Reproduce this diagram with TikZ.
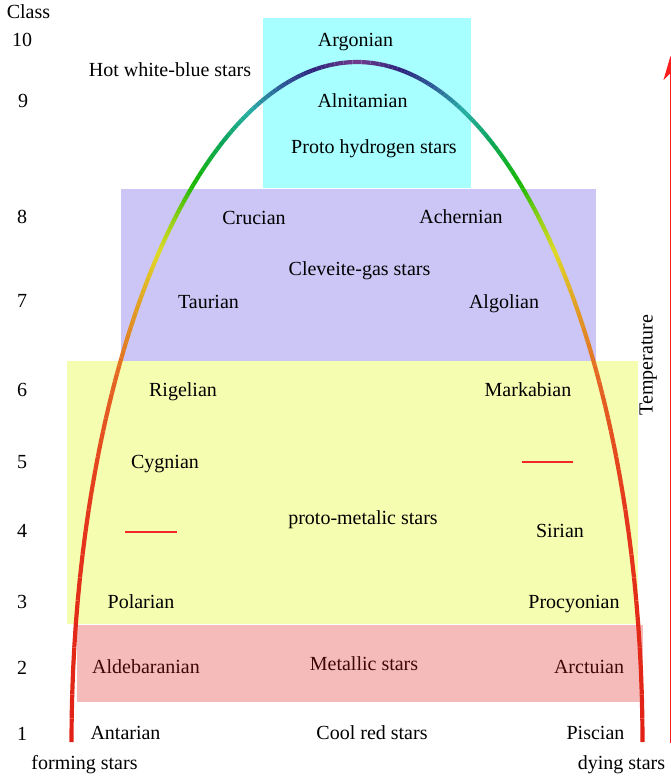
\documentclass[tikz,border=0pt]{standalone}
\usepackage{fontspec}
\setmainfont{Liberation Serif}
\usetikzlibrary{arrows.meta}
\definecolor{cyanbox}{RGB}{168,255,255}
\definecolor{lavbox}{RGB}{204,198,246}
\definecolor{yelbox}{RGB}{245,253,176}
\definecolor{pinkbox}{RGB}{245,187,187}
\definecolor{pinktext}{RGB}{62,8,8}
\definecolor{arrowred}{RGB}{250,30,30}
\definecolor{dashred}{RGB}{240,40,40}
\definecolor{g0}{RGB}{226,32,22}
\definecolor{g1}{RGB}{228,55,28}
\definecolor{g2}{RGB}{228,100,35}
\definecolor{g3}{RGB}{226,160,35}
\definecolor{g4}{RGB}{224,218,35}
\definecolor{g5}{RGB}{150,210,20}
\definecolor{g6}{RGB}{25,185,0}
\definecolor{g7}{RGB}{10,165,90}
\definecolor{g8}{RGB}{40,175,165}
\definecolor{g9}{RGB}{45,85,150}
\definecolor{g10}{RGB}{45,35,125}
\definecolor{g11}{RGB}{115,60,140}
\tikzset{
  lbl/.style={font=\fontsize{20bp}{24bp}\selectfont, inner sep=0pt, anchor=base},
  pinklbl/.style={lbl, text=pinktext},
  curveseg/.style={line width=4.2bp},
  reddash/.style={line width=2.4bp, draw=dashred},
}
\begin{document}
\begin{tikzpicture}[x=1bp,y=-1bp]
\useasboundingbox (0,0) rectangle (671,776);
% boxes
\fill[cyanbox] (263,18) rectangle (471,188);
\fill[lavbox] (121,189) rectangle (596,361);
\fill[yelbox] (67,361) rectangle (638,624);
\fill[pinkbox] (77,625) rectangle (643,702);
% class labels
\node[lbl] (cls) at (28.5,19) {Class};
\node[lbl] (c10) at (22,47) {10};
\node[lbl] (c9) at (23,107) {9};
\node[lbl] (c8) at (22,223) {8};
\node[lbl] (c7) at (22,307) {7};
\node[lbl] (c6) at (22,396) {6};
\node[lbl] (c5) at (22,468) {5};
\node[lbl] (c4) at (22,537) {4};
\node[lbl] (c3) at (22,608) {3};
\node[lbl] (c2) at (22,674) {2};
\node[lbl] (c1) at (22,740) {1};
% star labels
\node[lbl] (hot) at (170,77) {Hot white-blue stars};
\node[lbl] (arg) at (355.5,47) {Argonian};
\node[lbl] (aln) at (362.5,107) {Alnitamian};
\node[lbl] (proh) at (374,153) {Proto hydrogen stars};
\node[lbl] (cru) at (254,224) {Crucian};
\node[lbl] (ach) at (461,223) {Achernian};
\node[lbl] (clev) at (359.5,275) {Cleveite-gas stars};
\node[lbl] (tau) at (208.5,308) {Taurian};
\node[lbl] (alg) at (504,308) {Algolian};
\node[lbl] (rig) at (183,396) {Rigelian};
\node[lbl] (mark) at (528,396) {Markabian};
\node[lbl] (cyg) at (165,468) {Cygnian};
\node[lbl] (prom) at (363,524) {proto-metalic stars};
\node[lbl] (sir) at (560,537) {Sirian};
\node[lbl] (pol) at (141,608) {Polarian};
\node[lbl] (proc) at (574,608) {Procyonian};
\node[pinklbl] (ald) at (146,673) {Aldebaranian};
\node[pinklbl] (met) at (364,670) {Metallic stars};
\node[pinklbl] (arc) at (589,673) {Arctuian};
\node[lbl] (ant) at (125.5,739) {Antarian};
\node[lbl] (cool) at (372,739) {Cool red stars};
\node[lbl] (pis) at (595.5,739) {Piscian};
\node[lbl] (form) at (84.5,769) {forming stars};
\node[lbl] (dying) at (621.5,769) {dying stars};
\node[lbl, rotate=90] (temp) at (652.7,365) {Temperature};
% red dashes
\coordinate (dl1) at (125,532);
\coordinate (dl2) at (177,532);
\coordinate (dr1) at (522,462);
\coordinate (dr2) at (573,462);
\draw[reddash] (dl1) -- (dl2);
\draw[reddash] (dr1) -- (dr2);
% temperature arrow
\coordinate (ta) at (670.5,743);
\coordinate (tb) at (670.5,56);
\draw[draw=arrowred, fill=arrowred, line width=1.2bp, -{Stealth[length=24bp,width=14bp,inset=7bp]}] (ta) -- (tb);
% gradient half-ellipse curve
\foreach \ta/\tb/\ca/\cb in {0/20/g0/g1, 20/32/g1/g2, 32/40/g2/g3, 40/46/g3/g4, 46/50/g4/g5, 50/55/g5/g6, 55/62/g6/g7, 62/68/g7/g8, 68/75/g8/g9, 75/81/g9/g10, 81/90/g10/g11,
  90/99/g11/g10, 99/105/g10/g9, 105/112/g9/g8, 112/118/g8/g7, 118/125/g7/g6, 125/130/g6/g5, 130/134/g5/g4, 134/140/g4/g3, 140/148/g3/g2, 148/160/g2/g1, 160/180/g1/g0} {
  \foreach \i in {1,...,10} {
    \pgfmathsetmacro\aa{\ta+(\tb-\ta)*(\i-1)/10}
    \pgfmathsetmacro\ab{\ta+(\tb-\ta)*\i/10}
    \pgfmathtruncatemacro\pp{100-(\i-0.5)*10}
    \draw[curveseg, draw=\ca!\pp!\cb] ({357-285.5*cos(\aa)},{742-680*sin(\aa)}) -- ({357-285.5*cos(\ab)},{742-680*sin(\ab)});
  }
}
\end{tikzpicture}
\end{document}
